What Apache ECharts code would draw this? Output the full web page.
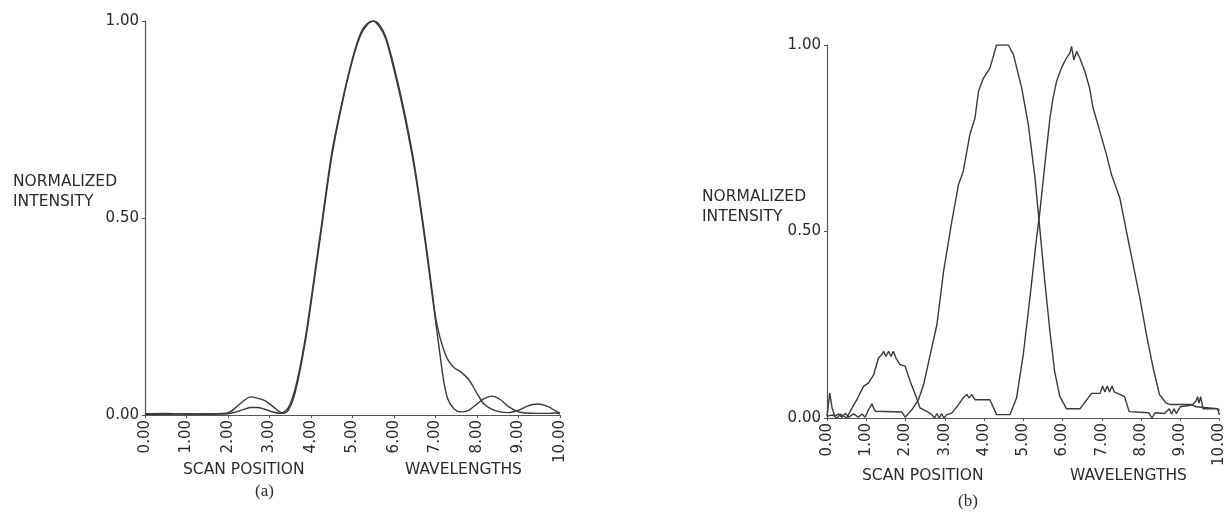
<!DOCTYPE html>
<html>
<head>
<meta charset="utf-8">
<script src="https://cdn.jsdelivr.net/npm/echarts@6/dist/echarts.min.js"></script>
<style>
    html, body { margin: 0; padding: 0; background: #fff; }
    #main { width: 1227px; height: 513px; }
</style>
</head>
<body>
<div id="main"></div>
<script>
// (a) 两条曲线共用扫描位置
var scanA = [0, 0.5, 1.0, 1.5, 2.0, 2.2, 2.4, 2.55, 2.7, 2.9, 3.1, 3.3, 3.45, 3.6, 3.75, 3.9, 4.05, 4.25, 4.5, 4.75, 5.0, 5.2, 5.35, 5.5, 5.65, 5.8, 6.0, 6.25, 6.5, 6.75, 6.9, 7.0, 7.1, 7.2, 7.3, 7.45, 7.6, 7.8, 8.0, 8.15, 8.35, 8.55, 8.75, 9.0, 9.2, 9.45, 9.7, 9.9, 10.0];
var intensityA1 = [0.003, 0.004, 0.002, 0.003, 0.006, 0.02, 0.038, 0.046, 0.043, 0.036, 0.02, 0.006, 0.018, 0.06, 0.13, 0.22, 0.33, 0.48, 0.665, 0.795, 0.905, 0.97, 0.993, 1.0, 0.985, 0.955, 0.876, 0.76, 0.62, 0.44, 0.32, 0.24, 0.16, 0.085, 0.04, 0.015, 0.008, 0.012, 0.028, 0.04, 0.048, 0.04, 0.022, 0.008, 0.005, 0.004, 0.004, 0.005, 0.003];
var intensityA2 = [0.002, 0.002, 0.003, 0.002, 0.003, 0.008, 0.015, 0.019, 0.019, 0.014, 0.007, 0.004, 0.012, 0.05, 0.12, 0.21, 0.32, 0.47, 0.655, 0.79, 0.9, 0.965, 0.99, 1.0, 0.99, 0.96, 0.885, 0.77, 0.63, 0.45, 0.33, 0.25, 0.2, 0.165, 0.14, 0.12, 0.11, 0.09, 0.055, 0.03, 0.015, 0.008, 0.006, 0.012, 0.022, 0.028, 0.022, 0.01, 0.005];

// (b) 两条曲线
var scanB1 = [0, 0.04, 0.07, 0.13, 0.2, 0.3, 0.38, 0.47, 0.55, 0.68, 0.8, 0.89, 0.97, 1.06, 1.14, 1.23, 1.91, 1.99, 2.16, 2.25, 2.33, 2.46, 2.63, 2.8, 2.97, 3.18, 3.35, 3.47, 3.64, 3.77, 3.86, 3.98, 4.15, 4.32, 4.62, 4.75, 4.96, 5.13, 5.3, 5.42, 5.55, 5.68, 5.8, 5.93, 6.1, 6.45, 6.55, 6.74, 6.96, 7.02, 7.08, 7.14, 7.2, 7.26, 7.32, 7.58, 7.7, 8.2, 8.28, 8.36, 8.6, 8.72, 8.78, 8.84, 8.9, 9.0, 9.3, 9.4, 9.44, 9.48, 9.52, 9.58, 9.95, 10.0];
var intensityB1 = [0.005, 0.01, 0.067, 0.027, 0.005, 0.011, 0.002, 0.013, 0.002, 0.011, 0.002, 0.011, 0.002, 0.022, 0.038, 0.018, 0.016, 0.002, 0.022, 0.036, 0.049, 0.089, 0.17, 0.25, 0.393, 0.527, 0.626, 0.661, 0.76, 0.804, 0.876, 0.91, 0.938, 1.0, 1.0, 0.974, 0.885, 0.786, 0.643, 0.509, 0.366, 0.232, 0.125, 0.058, 0.025, 0.025, 0.039, 0.066, 0.066, 0.086, 0.07, 0.086, 0.07, 0.086, 0.07, 0.057, 0.017, 0.014, 0.0, 0.014, 0.012, 0.025, 0.01, 0.025, 0.012, 0.03, 0.035, 0.045, 0.057, 0.04, 0.057, 0.025, 0.025, 0.008];
var scanB2 = [0, 0.15, 0.25, 0.35, 0.5, 0.64, 0.76, 0.93, 1.06, 1.19, 1.31, 1.4, 1.44, 1.5, 1.57, 1.63, 1.69, 1.76, 1.86, 1.99, 2.12, 2.25, 2.37, 2.54, 2.67, 2.74, 2.8, 2.86, 2.92, 2.98, 3.05, 3.18, 3.35, 3.47, 3.56, 3.62, 3.69, 3.77, 4.15, 4.32, 4.66, 4.83, 5.0, 5.17, 5.34, 5.42, 5.55, 5.68, 5.76, 5.85, 5.97, 6.1, 6.19, 6.23, 6.29, 6.36, 6.44, 6.57, 6.69, 6.78, 6.95, 7.12, 7.25, 7.46, 7.63, 7.8, 7.97, 8.14, 8.31, 8.47, 8.64, 8.75, 9.3, 9.4, 9.95, 10.0];
var intensityB2 = [0.005, 0.008, 0.0, 0.01, 0.0, 0.027, 0.049, 0.085, 0.094, 0.116, 0.161, 0.17, 0.179, 0.165, 0.179, 0.165, 0.179, 0.16, 0.143, 0.139, 0.098, 0.063, 0.027, 0.018, 0.009, 0.0, 0.012, 0.0, 0.012, 0.0, 0.009, 0.013, 0.036, 0.054, 0.063, 0.054, 0.063, 0.049, 0.049, 0.009, 0.009, 0.054, 0.17, 0.322, 0.483, 0.55, 0.679, 0.804, 0.858, 0.903, 0.938, 0.965, 0.979, 0.996, 0.96, 0.983, 0.965, 0.929, 0.885, 0.831, 0.769, 0.706, 0.652, 0.59, 0.5, 0.411, 0.322, 0.223, 0.134, 0.063, 0.04, 0.036, 0.036, 0.03, 0.025, 0.02];

var yTicks = [0, 0.5, 1];

function zip(xs, ys) {
    var out = [];
    for (var i = 0; i < xs.length; i++) {
        out.push([xs[i], ys[i]]);
    }
    return out;
}

var ink = '#2b2b2b';
var font = 'DejaVu Sans';

function xAxisOpt(idx) {
    return {
        type: 'value', gridIndex: idx, min: 0, max: 10, interval: 1,
        axisLine: {lineStyle: {color: '#555', width: 1.2}},
        axisTick: {show: true, length: 3, inside: false, lineStyle: {color: '#555'}},
        splitLine: {show: false},
        axisLabel: {
            rotate: 90, margin: 5, color: ink, fontFamily: font, fontSize: 15,
            formatter: function (v) { return v.toFixed(2); }
        }
    };
}

function yAxisOpt(idx) {
    return {
        type: 'value', gridIndex: idx, min: 0, max: 1, interval: 0.5,
        axisLine: {show: true, lineStyle: {color: '#555', width: 1.2}},
        axisTick: {show: true, length: 3, lineStyle: {color: '#555'}},
        splitLine: {show: false},
        axisLabel: {
            margin: 6, color: ink, fontFamily: font, fontSize: 15,
            formatter: function (v) { return yTicks.indexOf(v) >= 0 ? v.toFixed(2) : ''; }
        }
    };
}

function lineSeries(idx, data, smooth) {
    return {
        type: 'line', xAxisIndex: idx, yAxisIndex: idx, data: data,
        showSymbol: false, symbol: 'none', smooth: smooth,
        lineStyle: {color: '#3a3a3a', width: 1.4}
    };
}

function label(text, x, y, size, family) {
    return {
        type: 'text', left: x, top: y,
        style: {text: text, fill: ink, font: size + 'px "' + (family || font) + '"'}
    };
}

var myChart = echarts.init(document.getElementById('main'));

var option = {
    backgroundColor: '#fff',
    animation: false,
    grid: [
        {left: 145, right: 667, top: 21, bottom: 98},
        {left: 827, right: 7, top: 45, bottom: 95}
    ],
    xAxis: [xAxisOpt(0), xAxisOpt(1)],
    yAxis: [yAxisOpt(0), yAxisOpt(1)],
    series: [
        lineSeries(0, zip(scanA, intensityA1), 0.3),
        lineSeries(0, zip(scanA, intensityA2), 0.3),
        lineSeries(1, zip(scanB1, intensityB1), false),
        lineSeries(1, zip(scanB2, intensityB2), false)
    ],
    graphic: [
        label('NORMALIZED', 13, 174, 15.5),
        label('INTENSITY', 13, 194, 15.5),
        label('SCAN POSITION', 183, 462, 15.5),
        label('WAVELENGTHS', 405, 462, 15.5),
        label('(a)', 255, 483, 17, 'Liberation Serif'),
        label('NORMALIZED', 702, 189, 15.5),
        label('INTENSITY', 702, 209, 15.5),
        label('SCAN POSITION', 862, 468, 15.5),
        label('WAVELENGTHS', 1070, 468, 15.5),
        label('(b)', 958, 493, 17, 'Liberation Serif')
    ]
};

myChart.setOption(option);
</script>
</body>
</html>
